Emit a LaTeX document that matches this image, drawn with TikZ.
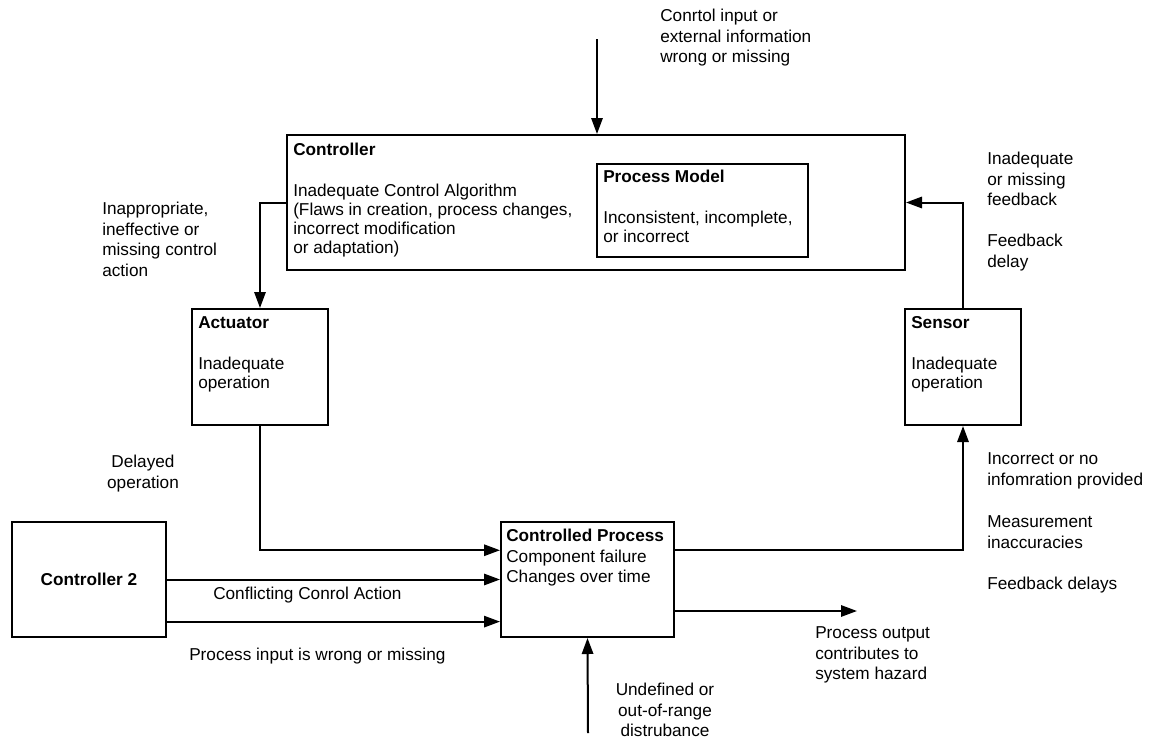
\documentclass[tikz,border=0pt]{standalone}
\usepackage{fontspec}
\setmainfont{Liberation Sans}
\usetikzlibrary{positioning,arrows.meta,fit,calc}
\newcommand{\lblfont}{\fontsize{12.9}{15.4}\selectfont}
\newcommand{\boxfont}{\fontsize{12.9}{14.3}\selectfont}

\begin{document}
\begin{tikzpicture}[x=0.75pt, y=-0.75pt,
  blk/.style={draw=black, line width=1.5pt, inner sep=0pt},
  boxtxt/.style={anchor=north west, align=left, inner sep=0pt, font=\boxfont},
  lbl/.style={anchor=north west, align=left, inner sep=0pt, font=\lblfont},
  arr/.style={-{Triangle[length=12pt,width=8.5pt]}, line width=1.5pt, black}]
  \useasboundingbox (0,0) rectangle (1154,740);

  % boxes
  \node[blk, fit={(287,135) (905,270)}] (ctrl) {};
  \node[blk, fit={(597,164) (808,257)}] (pm) {};
  \node[blk, fit={(192,309) (328,425)}] (act) {};
  \node[blk, fit={(905,309) (1021,425)}] (sens) {};
  \node[blk, fit={(12,522) (166,637)}] (c2) {};
  \node[blk, fit={(501,522) (674,637)}] (cp) {};

  % box texts
  \node[boxtxt] (ctrltxt) at (293,142) {\strut\textbf{Controller}\\[16pt]
    Inadequate Control Algorithm\\(Flaws in creation, process changes,\\
    incorrect modification\\or adaptation)};
  \node[boxtxt] (pmtxt) at (603,169) {\strut\textbf{Process Model}\\[16pt]
    Inconsistent, incomplete,\\or incorrect};
  \node[boxtxt] (acttxt) at (198,315) {\strut\textbf{Actuator}\\[16pt]
    Inadequate\\operation};
  \node[boxtxt] (senstxt) at (911,315) {\strut\textbf{Sensor}\\[16pt]
    Inadequate\\operation};
  \node[lbl] (cptxt) at (506,527) {\strut\textbf{Controlled Process}\\
    Component failure\\Changes over time};
  \node[font=\lblfont\bfseries] (c2txt) at (c2.center) {Controller 2};

  % labels
  \node[lbl] (inptxt) at (660,7) {\strut Conrtol input or\\external information\\wrong or missing};
  \node[lbl] (inapp) at (102,200) {\strut Inappropriate,\\ineffective or\\missing control\\action};
  \node[lbl, align=center, anchor=north] (delay) at (143,453) {\strut Delayed\\operation};
  \node[lbl] (fbmiss) at (987,150) {\strut Inadequate\\or missing\\feedback};
  \node[lbl] (fbdelay) at (987,232) {\strut Feedback\\delay};
  \node[lbl] (noinfo) at (987,450) {\strut Incorrect or no\\infomration provided};
  \node[lbl] (meas) at (987,513) {\strut Measurement\\inaccuracies};
  \node[lbl] (fbdelays) at (987,575) {\strut Feedback delays};
  \node[lbl] (confl) at (213,585) {\strut Conflicting Conrol Action};
  \node[lbl] (procin) at (189,646) {\strut Process input is wrong or missing};
  \node[lbl] (procout) at (815,624) {\strut Process output\\contributes to\\system hazard};
  \node[lbl, align=center, anchor=north] (undef) at (665,681) {\strut Undefined or\\out-of-range\\distrubance};

  % free ends
  \coordinate (src) at (597,39);
  \coordinate (haz) at (857,611);
  \coordinate (dist) at (588,733);

  % connectors
  \draw[arr] (src) -- (src |- ctrl.north);
  \draw[arr] (ctrl.west) -| (act.north);
  \draw[arr] (act.south) |- ($(cp.north west)!0.25!(cp.south west)$);
  \draw[arr] (c2.east) -- (cp.west);
  \draw[arr] ($(c2.north east)!0.86!(c2.south east)$) -- ($(cp.north west)!0.86!(cp.south west)$);
  \draw[arr] ($(cp.north east)!0.25!(cp.south east)$) -| (sens.south);
  \draw[arr] (sens.north) |- (ctrl.east);
  \draw[arr] (cp.east |- haz) -- (haz);
  \draw[arr] (dist) -- (cp.south);
\end{tikzpicture}
\end{document}
